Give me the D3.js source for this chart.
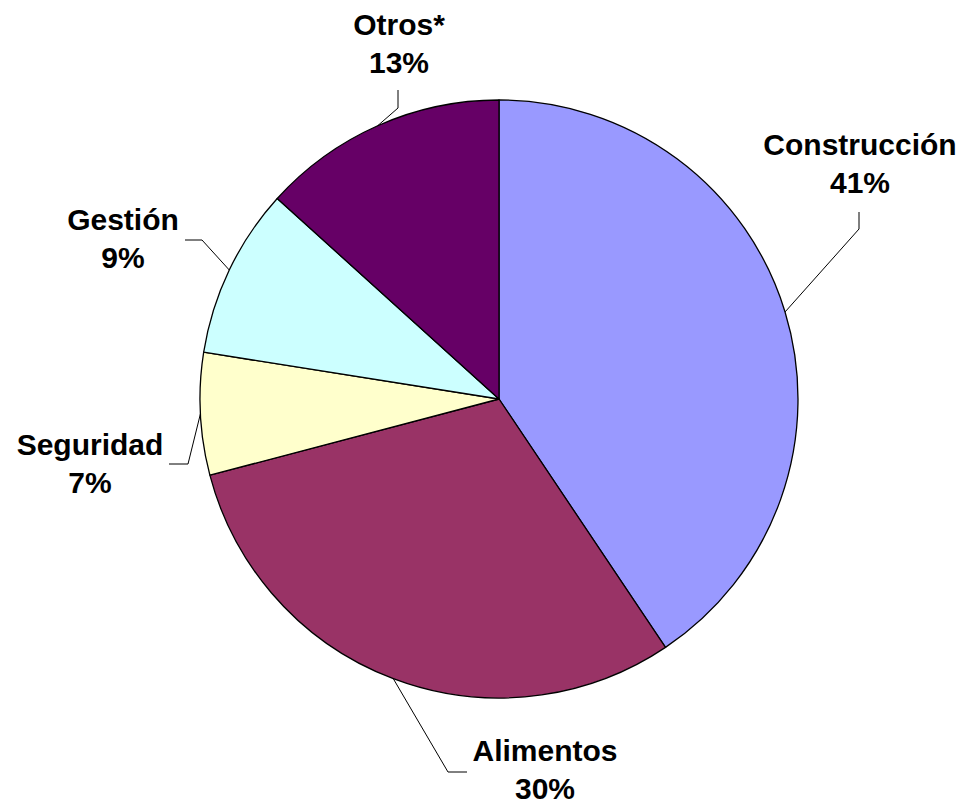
<!DOCTYPE html>
<html>
<head>
<meta charset="utf-8">
<script src="https://cdn.jsdelivr.net/npm/d3@7"></script>
<style>
  html, body { margin: 0; padding: 0; background: #fff; }
  svg { display: block; }
</style>
</head>
<body>
<svg id="chart" width="961" height="804"></svg>
<script>
// ---- data ----
const categories = ["Construcción", "Alimentos", "Seguridad", "Gestión", "Otros*"];
const values     = [40.6, 30.3, 6.6, 9.2, 13.3];
const percentLabels = ["41%", "30%", "7%", "9%", "13%"];

// ---- styles / layout ----
const colors = ["#9999FF", "#993366", "#FFFFCC", "#CCFFFF", "#660066"];
// label block centre x, first-line baseline y, and leader elbow points (label side first)
const labelLayout = [
  { x: 860, y: 155, leader: [[859, 212], [859, 229]] },
  { x: 545, y: 761, leader: [[467, 772], [448, 772]] },
  { x: 90,  y: 455, leader: [[169, 464], [188, 464]] },
  { x: 123, y: 230, leader: [[185, 240], [202, 240]] },
  { x: 399, y: 35,  leader: [[398, 90],  [398, 108]] }
];

const width = 961, height = 804;
const cx = 499, cy = 399, radius = 299;
const lineGap = 38;

const svg = d3.select("#chart");
const g = svg.append("g").attr("transform", `translate(${cx},${cy})`);

const pie = d3.pie().sort(null).value(d => d)
  .startAngle(0).endAngle(2 * Math.PI);
const arcs = pie(values);
const arc = d3.arc().innerRadius(0).outerRadius(radius);

g.selectAll("path.slice")
  .data(arcs)
  .enter().append("path")
  .attr("class", "slice")
  .attr("d", arc)
  .attr("fill", (d, i) => colors[i])
  .attr("stroke", "#000")
  .attr("stroke-width", 1.3)
  .attr("stroke-linejoin", "round");

// leader lines
const line = d3.line();
arcs.forEach((a, i) => {
  const mid = (a.startAngle + a.endAngle) / 2;
  const px = cx + radius * Math.sin(mid);
  const py = cy - radius * Math.cos(mid);
  const pts = labelLayout[i].leader.concat([[px, py]]);
  svg.append("path")
    .attr("d", line(pts))
    .attr("fill", "none")
    .attr("stroke", "#000")
    .attr("stroke-width", 1);
});

// labels
arcs.forEach((a, i) => {
  const L = labelLayout[i];
  const t = svg.append("text")
    .attr("x", L.x).attr("y", L.y)
    .attr("text-anchor", "middle")
    .attr("font-family", "'Liberation Sans', Arial, sans-serif")
    .attr("font-weight", "bold")
    .attr("font-size", 30)
    .attr("fill", "#000");
  t.append("tspan").attr("x", L.x).attr("y", L.y).text(categories[i]);
  t.append("tspan").attr("x", L.x).attr("y", L.y + lineGap).text(percentLabels[i]);
});
</script>
</body>
</html>
